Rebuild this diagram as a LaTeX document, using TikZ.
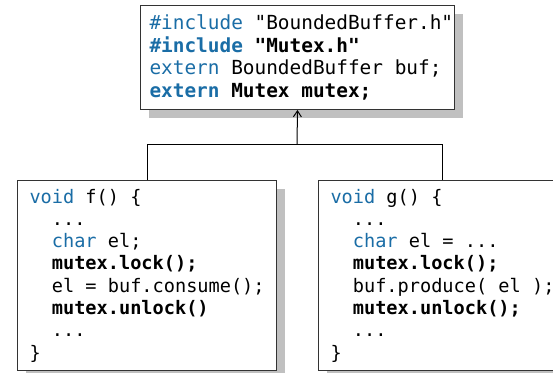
\documentclass[tikz,border=0pt]{standalone}
\usepackage{fontspec}
\setmonofont{DejaVu Sans Mono}
\usetikzlibrary{shadows,arrows.meta}
\definecolor{tummansininen}{HTML}{1A6DA6}
\definecolor{harmaa}{HTML}{C0C0C0}
\definecolor{reuna}{HTML}{333333}
\newcommand{\kw}[1]{\textcolor{tummansininen}{#1}}
\newcommand{\tv}{\hspace*{0.602em}}
\newcommand{\sis}{\tv\tv}

\begin{document}
\begin{tikzpicture}[x=1pt,y=-1pt,line width=1pt,
		laatikko/.style={draw=reuna, fill=white, align=left, anchor=north west,
			inner ysep=0pt, drop shadow={shadow xshift=8pt, shadow yshift=-8pt, fill=harmaa, opacity=1}},
		iso/.style={font=\ttfamily\fontsize{19.4}{22.5}\selectfont},
		pieni/.style={font=\ttfamily\fontsize{18.6}{22.3}\selectfont}]
				\useasboundingbox (0,0) rectangle (553,372);
				\node[laatikko, iso, text width=296pt, inner xsep=9pt, minimum height=104pt] (otsake) at (140,5)
					{\kw{\#include}\tv"BoundedBuffer.h"\\
					\textbf{\kw{\#include}\tv"Mutex.h"}\\
					\kw{extern}\tv BoundedBuffer\tv buf;\\
					\textbf{\kw{extern}\tv Mutex\tv mutex;}};
				\node[laatikko, pieni, text width=235pt, inner xsep=12pt, minimum height=190pt] (vasen) at (17,180)
					{\kw{void}\tv f()\tv\{\\
					\sis...\\
					\sis\kw{char}\tv el;\\
					\sis\textbf{mutex.lock();}\\
					\sis el\tv=\tv buf.consume();\\
					\sis\textbf{mutex.unlock()}\\
					\sis...\\
					\}};
				\node[laatikko, pieni, text width=224pt, inner xsep=12pt, minimum height=190pt] (oikea) at (318,180)
					{\kw{void}\tv g()\tv\{\\
					\sis...\\
					\sis\kw{char}\tv el\tv=\tv...\\
					\sis\textbf{mutex.lock();}\\
					\sis buf.produce(\tv el\tv);\\
					\sis\textbf{mutex.unlock();}\\
					\sis...\\
					\}};
				\coordinate (haara) at (297,144);
				\draw (vasen.north) |- (oikea.north |- haara) -- (oikea.north);
				\draw[-{Straight Barb[length=6pt,width=8pt]}] (haara) -- (otsake.south);
			\end{tikzpicture}
\end{document}
